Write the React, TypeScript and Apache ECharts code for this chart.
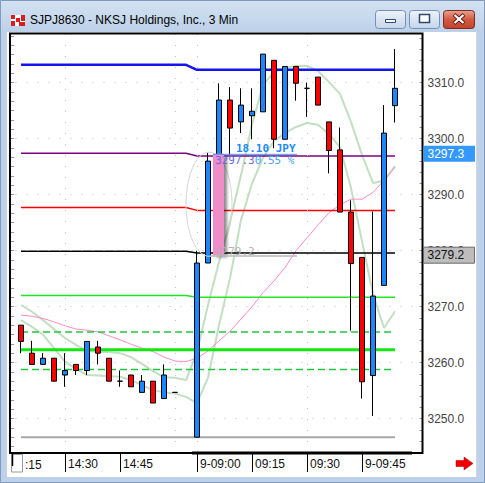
import React, { useEffect, useRef } from 'react';
import * as echarts from 'echarts';

// 3-minute bars: end of the previous session, then the morning of the 9th
const timeLabels = [
  '14:18', '14:21', '14:24', '14:27', '14:30', '14:33', '14:36', '14:39', '14:42', '14:45',
  '14:48', '14:51', '14:54', '14:57', '15:00', '',
  '9-09:00', '09:03', '09:06', '09:09', '09:12', '09:15', '09:18', '09:21', '09:24', '09:27',
  '09:30', '09:33', '09:36', '09:39', '09:42', '9-09:45', '09:48', '09:51', '09:54', '09:57', '10:00',
];
const axisTimes = ['14:30', '14:45', '9-09:00', '09:15', '09:30', '9-09:45'];
const gridTimes = ['14:30', '15:00', '9-09:00', '09:30'];
const priceTicks = [3250, 3260, 3270, 3280, 3290, 3300, 3310];

const opens = [3266.7, 3261.7, 3259.7, 3260.8, 3257.8, 3259.7, 3258.6, 3262.8, 3260.8, 3256.7, 3257.8, 3254.7, 3256.7, 3253.6, 3254.7, null,
  3246.7, 3277.8, 3295.5, 3306.9, 3303.0, 3304.1, 3304.8, 3314.0, 3299.9, 3312.9, 3309.0, 3311.0, 3303.0, 3298.0, 3286.9, 3278.8, 3257.7, 3273.8, 3305.9];
const highs = [3266.7, 3263.9, 3261.7, 3260.8, 3261.7, 3259.7, 3263.8, 3263.9, 3260.8, 3258.6, 3257.8, 3257.8, 3256.7, 3259.7, 3254.7, null,
  3280.0, 3297.5, 3309.9, 3309.2, 3309.0, 3309.0, 3315.1, 3314.0, 3312.9, 3312.9, 3310.0, 3311.0, 3303.0, 3302.0, 3289.0, 3278.8, 3287.0, 3306.0, 3316.0];
const lows = [3261.7, 3259.7, 3259.7, 3256.7, 3255.7, 3257.8, 3257.8, 3259.7, 3256.7, 3255.7, 3255.7, 3254.7, 3252.8, 3253.6, 3254.7, null,
  3246.7, 3277.8, 3295.5, 3297.1, 3301.0, 3299.9, 3304.8, 3298.3, 3299.9, 3306.8, 3303.9, 3306.0, 3293.8, 3286.9, 3265.7, 3253.6, 3250.5, 3273.8, 3302.9];
const closes = [3263.8, 3259.7, 3260.8, 3256.7, 3258.6, 3258.6, 3263.8, 3261.7, 3256.7, 3256.7, 3255.7, 3256.7, 3252.8, 3257.8, 3254.7, null,
  3277.8, 3296.0, 3306.9, 3301.9, 3306.0, 3304.9, 3315.1, 3299.9, 3312.9, 3309.9, 3309.0, 3306.0, 3297.9, 3286.9, 3277.7, 3256.6, 3271.9, 3301.0, 3309.0];

const upperBand = [3270.3, 3269.1, 3267.6, 3266.0, 3264.4, 3263.2, 3262.1, 3261.9, 3261.9, 3261.7, 3261.0, 3259.8, 3258.5, 3257.4, 3257.3, 3256.9,
  3261.9, 3270.3, 3278.0, 3285.1, 3293.5, 3302.5, 3309.6, 3311.9, 3312.6, 3313.0, 3313.0, 3312.1, 3310.1, 3308.0, 3303.0, 3297.1, 3292.1, 3292.5, 3295.1];
const lowerBand = [3267.6, 3266.4, 3265.0, 3262.6, 3260.2, 3258.9, 3257.8, 3257.7, 3257.6, 3257.5, 3256.9, 3256.0, 3255.1, 3254.7, 3254.5, 3253.9,
  3252.8, 3257.3, 3266.7, 3275.1, 3285.5, 3292.0, 3296.6, 3299.6, 3301.0, 3302.1, 3302.8, 3302.5, 3300.8, 3298.5, 3291.2, 3281.7, 3272.3, 3266.2, 3269.2];
const avgLine = [3268.5, 3268.3, 3267.9, 3267.3, 3266.6, 3266.0, 3265.8, 3265.5, 3264.8, 3264.1, 3263.3, 3262.6, 3262.0, 3261.0, 3260.3, 3260.2,
  3260.8, 3262.1, 3263.9, 3265.6, 3267.8, 3270.0, 3272.5, 3274.6, 3277.0, 3280.0, 3282.3, 3284.6, 3286.8, 3288.2, 3289.2, 3289.2, 3290.4, 3292.6, 3294.9];

// horizontal levels: value carried from the prior session, then today's value
const priorLevels = [3313.2, 3297.4, 3287.7, 3279.9, 3272.0];
const sessionLevels = [3312.3, 3296.9, 3287.2, 3279.6, 3271.7];
// levels that stay flat over both sessions
const fixedLevels = [3265.5, 3262.3, 3258.8, 3246.7];

const measureFrom = 3279.2;
const measureTo = 3297.3;
const measureTime = '09:06';

const titleText = 'SJPJ8630 - NKSJ Holdings, Inc., 3 Min';

const Y_MIN = 3243.875;
const Y_MAX = 3318.875;

const levelStyles = [
  { color: '#1414ee', width: 2.5 },
  { color: '#800080', width: 1.5 },
  { color: '#ff0000', width: 1.5 },
  { color: '#000000', width: 1.5 },
  { color: '#22e622', width: 1.5 },
];
const fixedStyles: any[] = [
  { color: '#20c840', width: 1.5, type: [7, 4] },
  { color: '#10e810', width: 3, type: 'solid' },
  { color: '#20c840', width: 1.5, type: [7, 4] },
  { color: '#a8a8a8', width: 2, type: 'solid' },
];

const UI_FONT = '"Liberation Sans", Arial, sans-serif';
const MONO_FONT = '"DejaVu Sans Mono", monospace';

function txt(x: number, y: number, text: string, font: string, fill: string, align = 'left', vAlign = 'middle', z = 70) {
  return {
    type: 'text', x, y, z, silent: true,
    style: { text, font, fill, align, verticalAlign: vAlign, textAlign: align, textVerticalAlign: vAlign },
  };
}

export default function App() {
  const ref = useRef<HTMLDivElement>(null);

  useEffect(() => {
    if (!ref.current) return;
    const chart = echarts.init(ref.current, null, { renderer: 'svg' });
    const n = opens.length;
    const sessionStart = timeLabels.indexOf('9-09:00');

    const candleData = opens.map((o, i) =>
      o == null ? ['-', '-', '-', '-'] : [o, closes[i], lows[i], highs[i]]);

    const levelSeries = priorLevels.map((p, k) => ({
      type: 'line', symbol: 'none', silent: true, z: 3,
      data: Array.from({ length: n }, (_, i) => (i < sessionStart ? p : sessionLevels[k])),
      lineStyle: { color: levelStyles[k].color, width: levelStyles[k].width },
    }));
    const fixedSeries = fixedLevels.map((v, k) => ({
      type: 'line', symbol: 'none', silent: true, z: 3,
      data: Array.from({ length: n }, () => v),
      lineStyle: { color: fixedStyles[k].color, width: fixedStyles[k].width, type: fixedStyles[k].type },
    }));
    const bandStyle = { color: 'rgba(110,178,110,0.42)', width: 2 };

    const minorTicks: number[] = [];
    for (let v = 3244; v <= 3318; v += 2) minorTicks.push(v);
    const leftTicks: number[] = [];
    for (let k = -40; k <= 6; k++) {
      const v = 3310 + (k * 10) / 6;
      if (v > Y_MIN && v < Y_MAX) leftTicks.push(v);
    }

    const showTime = (_: number, value: string) => axisTimes.indexOf(value) >= 0;

    chart.setOption({
      animation: false,
      backgroundColor: '#ffffff',
      textStyle: { fontFamily: UI_FONT },
      grid: { left: 15.5, right: 62.5, top: 33, bottom: 30, outerBoundsMode: 'none' },
      xAxis: {
        type: 'category',
        data: timeLabels,
        boundaryGap: true,
        axisLine: { show: false },
        axisTick: { show: true, alignWithLabel: true, interval: showTime, length: 19, lineStyle: { color: '#000', width: 1 } },
        axisLabel: {
          interval: showTime, align: 'left', margin: 5, padding: [0, 0, 0, 3],
          color: '#111', fontSize: 12, fontFamily: UI_FONT,
        },
        splitLine: { show: false },
      },
      yAxis: [
        {
          type: 'value', position: 'right', min: Y_MIN, max: Y_MAX,
          axisLine: { show: false },
          axisTick: { show: true, inside: true, length: 3, customValues: minorTicks, lineStyle: { color: '#999' } },
          axisLabel: {
            customValues: priceTicks, formatter: (v: number) => v.toFixed(1),
            margin: 5, color: '#444', fontSize: 12, fontFamily: UI_FONT,
          },
          splitLine: { show: false },
        },
        {
          type: 'value', position: 'left', offset: 5.5, min: Y_MIN, max: Y_MAX,
          axisLine: { show: false },
          axisTick: { show: true, inside: true, length: 4, customValues: leftTicks, lineStyle: { color: '#999' } },
          axisLabel: { show: false },
          splitLine: { show: false },
        },
      ],
      series: [
        {
          type: 'line', data: [], silent: true, z: 1,
          markLine: {
            silent: true, symbol: ['none', 'none'], label: { show: false },
            lineStyle: { color: '#c2c2c2', width: 1, type: [1, 10] },
            data: [...priceTicks.map((v) => ({ yAxis: v })), ...gridTimes.map((t) => ({ xAxis: t }))],
          },
        },
        { type: 'line', data: upperBand, symbol: 'none', silent: true, z: 2, lineStyle: bandStyle },
        { type: 'line', data: lowerBand, symbol: 'none', silent: true, z: 2, lineStyle: bandStyle },
        { type: 'line', data: avgLine, symbol: 'none', silent: true, z: 2, lineStyle: { color: '#ff8cc6', width: 1 } },
        ...fixedSeries,
        ...levelSeries,
        {
          type: 'candlestick', data: candleData, barWidth: 5, z: 5, silent: true,
          itemStyle: {
            color: '#1a86ff', color0: '#ff0000',
            borderColor: '#000', borderColor0: '#000', borderColorDoji: '#000', borderWidth: 1,
          },
        },
      ],
    });

    const toPx = (slot: number, price: number) =>
      chart.convertToPixel({ xAxisIndex: 0, yAxisIndex: 0 }, [slot, price]) as number[];
    const slotX = (s: number) => toPx(s, measureTo)[0];
    const mSlot = timeLabels.indexOf(measureTime);
    const yTo = toPx(mSlot, measureTo)[1];
    const yFrom = toPx(mSlot, measureFrom)[1];
    const xBar = slotX(mSlot);
    const move = measureTo - measureFrom;
    const moveText = move.toFixed(2) + ' JPY';
    const pctText = ((move / measureFrom) * 100).toFixed(2) + ' %';
    const yEllTop = toPx(mSlot, measureTo + 0.3)[1];
    const yEllBot = toPx(mSlot, measureFrom - 0.2)[1];

    const frameFill = '#bdd2ea';
    const btnFill = { type: 'linear', x: 0, y: 0, x2: 0, y2: 1, colorStops: [{ offset: 0, color: '#eef3fa' }, { offset: 1, color: '#c5d6ea' }] };

    const graphics: any[] = [
      // window frame
      {
        type: 'rect', z: 60, silent: true, shape: { x: 0, y: 0, width: 485, height: 32 },
        style: { fill: { type: 'linear', x: 0, y: 0, x2: 0, y2: 1, colorStops: [{ offset: 0, color: '#d4e2f2' }, { offset: 1, color: '#bcd1e9' }] } },
      },
      { type: 'rect', z: 60, silent: true, shape: { x: 0, y: 32, width: 7, height: 451 }, style: { fill: frameFill } },
      { type: 'rect', z: 60, silent: true, shape: { x: 477, y: 32, width: 8, height: 451 }, style: { fill: frameFill } },
      { type: 'rect', z: 60, silent: true, shape: { x: 0, y: 477, width: 485, height: 6 }, style: { fill: frameFill } },
      { type: 'line', z: 60, silent: true, shape: { x1: 476.5, y1: 32, x2: 476.5, y2: 477 }, style: { stroke: '#d6d6d6', lineWidth: 1 } },
      { type: 'rect', z: 61, silent: true, shape: { x: 0.5, y: 0.5, width: 484, height: 482 }, style: { fill: 'none', stroke: '#7f9bbd', lineWidth: 1 } },
      // title icon
      { type: 'rect', z: 62, silent: true, shape: { x: 11, y: 15, width: 14, height: 11 }, style: { fill: '#ffffff' } },
      { type: 'rect', z: 63, silent: true, shape: { x: 11, y: 15, width: 4, height: 4 }, style: { fill: '#d81e1e' } },
      { type: 'rect', z: 63, silent: true, shape: { x: 16, y: 18, width: 4, height: 4 }, style: { fill: '#d81e1e' } },
      { type: 'rect', z: 63, silent: true, shape: { x: 21, y: 15, width: 4, height: 6 }, style: { fill: '#d81e1e' } },
      { type: 'rect', z: 63, silent: true, shape: { x: 11, y: 21, width: 4, height: 5 }, style: { fill: '#d81e1e' } },
      { type: 'rect', z: 63, silent: true, shape: { x: 19, y: 22, width: 6, height: 4 }, style: { fill: '#d81e1e' } },
      txt(30, 20, titleText, `12px ${UI_FONT}`, '#000000', 'left', 'middle', 63),
      // caption buttons
      { type: 'rect', z: 62, silent: true, shape: { x: 375.5, y: 10.5, width: 30, height: 18, r: 3 }, style: { fill: btnFill, stroke: '#7590b4', lineWidth: 1 } },
      { type: 'rect', z: 63, silent: true, shape: { x: 385.5, y: 19.5, width: 10, height: 3 }, style: { fill: '#ffffff', stroke: '#30476a', lineWidth: 1 } },
      { type: 'rect', z: 62, silent: true, shape: { x: 409.5, y: 10.5, width: 30, height: 18, r: 3 }, style: { fill: btnFill, stroke: '#7590b4', lineWidth: 1 } },
      { type: 'rect', z: 63, silent: true, shape: { x: 419.5, y: 14.5, width: 10, height: 8 }, style: { fill: '#ffffff', stroke: '#30476a', lineWidth: 1.5 } },
      {
        type: 'rect', z: 62, silent: true, shape: { x: 443.5, y: 10.5, width: 31, height: 18, r: 3 },
        style: { fill: { type: 'linear', x: 0, y: 0, x2: 0, y2: 1, colorStops: [{ offset: 0, color: '#e8a493' }, { offset: 0.5, color: '#d35a41' }, { offset: 1, color: '#c4412b' }] }, stroke: '#7b2a1d', lineWidth: 1 },
      },
      { type: 'line', z: 63, silent: true, shape: { x1: 454, y1: 14.5, x2: 464, y2: 23.5 }, style: { stroke: '#5a1f15', lineWidth: 4 } },
      { type: 'line', z: 63, silent: true, shape: { x1: 464, y1: 14.5, x2: 454, y2: 23.5 }, style: { stroke: '#5a1f15', lineWidth: 4 } },
      { type: 'line', z: 64, silent: true, shape: { x1: 454.5, y1: 15, x2: 463.5, y2: 23 }, style: { stroke: '#ffffff', lineWidth: 2.2 } },
      { type: 'line', z: 64, silent: true, shape: { x1: 463.5, y1: 15, x2: 454.5, y2: 23 }, style: { stroke: '#ffffff', lineWidth: 2.2 } },
      // plot frame
      { type: 'rect', z: 62, silent: true, shape: { x: 10, y: 33.5, width: 412.5, height: 419.5 }, style: { fill: 'none', stroke: '#000', lineWidth: 2 } },
      { type: 'rect', z: 62, silent: true, shape: { x: 192, y: 451.5, width: 220, height: 3 }, style: { fill: '#000' } },
      // time-axis corner
      { type: 'rect', z: 62, silent: true, shape: { x: 11.5, y: 454.5, width: 11, height: 17.5 }, style: { fill: '#ffffff', stroke: '#9a9a9a', lineWidth: 1 } },
      { type: 'line', z: 63, silent: true, shape: { x1: 12.5, y1: 454, x2: 12.5, y2: 466 }, style: { stroke: '#000', lineWidth: 1.5 } },
      txt(25, 464.5, ':15', `12px ${UI_FONT}`, '#111111', 'left', 'middle', 62),
      {
        type: 'polygon', z: 62, silent: true,
        shape: { points: [[456, 460.5], [464, 460.5], [464, 457], [473, 463.5], [464, 470], [464, 466.5], [456, 466.5]] },
        style: { fill: '#f00000', stroke: '#b00000', lineWidth: 0.5 },
      },
      // measuring tool
      {
        type: 'ellipse', z: 40, silent: true,
        shape: { cx: slotX(mSlot - 1) + 1, cy: (yEllTop + yEllBot) / 2, rx: 23, ry: (yEllBot - yEllTop) / 2 },
        style: { fill: 'none', stroke: '#d6d6d6', lineWidth: 1 },
      },
      {
        type: 'rect', z: 42, silent: true,
        shape: { x: xBar - 6, y: yTo, width: 11, height: yFrom - yTo },
        style: { fill: '#f08cc8', shadowBlur: 3, shadowOffsetX: 3, shadowOffsetY: 2, shadowColor: 'rgba(0,0,0,0.45)' },
      },
      { type: 'line', z: 43, silent: true, shape: { x1: xBar - 6, y1: yTo + 0.5, x2: slotX(mSlot + 7) + 1, y2: yTo + 0.5 }, style: { stroke: '#3c9cff', lineWidth: 1 } },
      { type: 'line', z: 43, silent: true, shape: { x1: slotX(mSlot - 1) + 2, y1: yFrom + 0.8, x2: slotX(mSlot + 7) + 1, y2: yFrom + 0.8 }, style: { stroke: '#b8b8b8', lineWidth: 1.5 } },
      txt(slotX(mSlot + 2) - 5, yTo - 5, moveText, `bold 11px ${MONO_FONT}`, '#1e88ff', 'left', 'middle', 44),
      {
        type: 'text', z: 44, silent: true, x: xBar - 4, y: yTo + 7,
        style: {
          text: `{a|${measureTo.toFixed(1)}}{b|${pctText}}`,
          font: `11px ${MONO_FONT}`, verticalAlign: 'middle', textVerticalAlign: 'middle', align: 'left', textAlign: 'left',
          rich: {
            a: { fill: '#6a6ae6', color: '#6a6ae6', fontSize: 11, fontFamily: MONO_FONT },
            b: { fill: '#48a0ff', color: '#48a0ff', fontSize: 11, fontFamily: MONO_FONT },
          },
        },
      },
      txt(xBar - 4, yFrom - 3.5, measureFrom.toFixed(1), `11px ${MONO_FONT}`, '#b4b4b4', 'left', 'middle', 44),
      // price flags on the axis
      { type: 'rect', z: 65, silent: true, shape: { x: 423.5, y: yTo - 8, width: 51.5, height: 16 }, style: { fill: '#3399ff' } },
      txt(427.5, yTo, measureTo.toFixed(1), `12px ${UI_FONT}`, '#ffffff', 'left', 'middle', 66),
      { type: 'rect', z: 65, silent: true, shape: { x: 423.5, y: yFrom - 8, width: 51, height: 16 }, style: { fill: '#bdbdbd', stroke: '#6a6a6a', lineWidth: 1 } },
      txt(427.5, yFrom, measureFrom.toFixed(1), `12px ${UI_FONT}`, '#111111', 'left', 'middle', 66),
    ];

    chart.setOption({ graphic: { elements: graphics } });

    return () => chart.dispose();
  }, []);

  return (
    <div
      ref={ref}
      style={{ position: 'fixed', left: 0, top: 0, width: 485, height: 483, background: '#ffffff' }}
    />
  );
}
